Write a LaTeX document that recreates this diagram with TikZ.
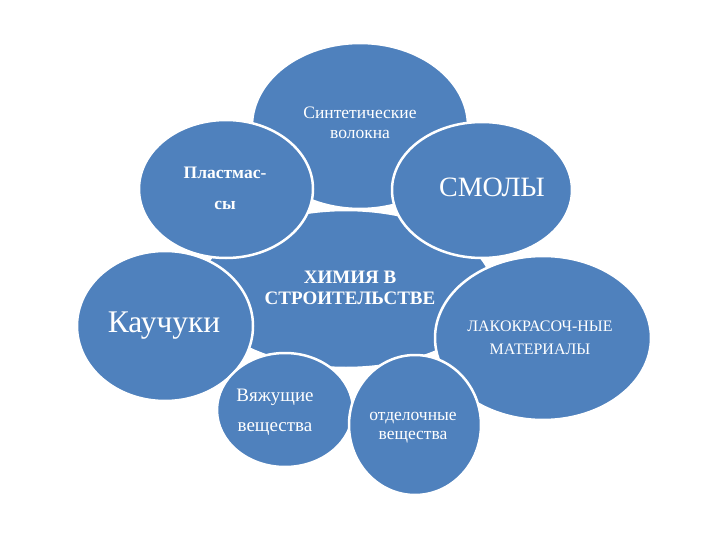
\documentclass[tikz,border=0pt]{standalone}
\usepackage{fontspec}
\setmainfont{Liberation Serif}
\usetikzlibrary{shapes.geometric}
\definecolor{blobblue}{HTML}{4F81BD}
\tikzset{
  blob/.style={ellipse, draw=white, line width=2.5pt, fill=blobblue, inner sep=0pt},
  txt/.style={text=white, align=center, inner sep=0pt}
}
\begin{document}
\begin{tikzpicture}[x=1pt,y=-1pt]
\useasboundingbox (0,0) rectangle (720,540);
% ellipses (back to front)
\node[blob, minimum width=216pt, minimum height=166pt] (synth) at (360,126) {};
\node[blob, minimum width=294pt, minimum height=158pt] (chem) at (346,289) {};
\node[blob, minimum width=174pt, minimum height=138pt] (plast) at (226,189) {};
\node[blob, minimum width=180pt, minimum height=136pt] (smoly) at (482,190) {};
\node[blob, minimum width=176pt, minimum height=150pt] (kauch) at (165,326) {};
\node[blob, minimum width=216pt, minimum height=164pt] (lako) at (543,338) {};
\node[blob, minimum width=136pt, minimum height=114pt] (vyazh) at (285,410) {};
\node[blob, minimum width=132pt, minimum height=140pt] (otdel) at (415,425) {};
% texts
\node[txt, font=\fontsize{17.5}{20}\selectfont] (synthT) at (360,123) {Синтетические\\волокна};
\node[txt, font=\fontsize{17.5}{31}\selectfont\bfseries] (plastT) at (225,188) {Пластмас-\\сы};
\node[txt, font=\fontsize{28}{30}\selectfont] (smolyT) at (492,187) {СМОЛЫ};
\node[txt, font=\fontsize{19}{21}\selectfont\bfseries] (chemT) at (350,288) {ХИМИЯ В\\СТРОИТЕЛЬСТВЕ};
\node[txt, font=\fontsize{31.5}{32}\selectfont] (kauchT) at (164,326) {Каучуки};
\node[txt, font=\fontsize{16}{23}\selectfont] (lakoT) at (540,338) {ЛАКОКРАСОЧ-НЫЕ\\МАТЕРИАЛЫ};
\node[txt, font=\fontsize{19}{30}\selectfont] (vyazhT) at (275,412) {Вяжущие\\вещества};
\node[txt, font=\fontsize{17.5}{19}\selectfont] (otdelT) at (413,428) {отделочные\\вещества};
\end{tikzpicture}
\end{document}
